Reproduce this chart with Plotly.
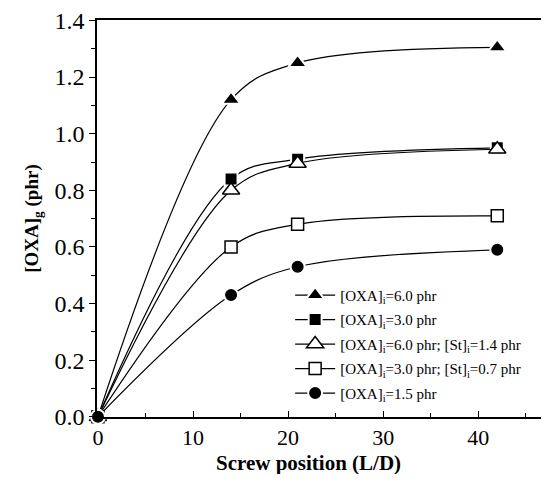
import plotly.graph_objects as go

x_pos = [0, 14, 21, 42]
oxa60 = [0.0, 1.12, 1.25, 1.305]
oxa30 = [0.0, 0.84, 0.91, 0.95]
oxa60_st = [0.0, 0.80, 0.895, 0.945]
oxa30_st = [0.0, 0.60, 0.68, 0.71]
oxa15 = [0.0, 0.43, 0.53, 0.59]

names = [
    "[OXA]<sub>i</sub>=6.0 phr",
    "[OXA]<sub>i</sub>=3.0 phr",
    "[OXA]<sub>i</sub>=6.0 phr; [St]<sub>i</sub>=1.4 phr",
    "[OXA]<sub>i</sub>=3.0 phr; [St]<sub>i</sub>=0.7 phr",
    "[OXA]<sub>i</sub>=1.5 phr",
]
series = [oxa60, oxa30, oxa60_st, oxa30_st, oxa15]
symbols = ["triangle-up", "square", "triangle-up", "square", "circle"]
fills = ["black", "black", "white", "white", "black"]
sizes = [16, 13, 15, 12, 14]

x_title = "<b>Screw position (L/D)</b>"
y_title = "<b>[OXA]<sub>g</sub> (phr)</b>"

fig = go.Figure()
for i, (name, ys, sym, fc, sz) in enumerate(zip(names, series, symbols, fills, sizes)):
    filled = fc == "black"
    fig.add_trace(go.Scatter(
        x=x_pos, y=ys, name=name, mode="lines+markers", legendgroup=str(i),
        line=dict(color="black", width=1.2, shape="spline", smoothing=1.0),
        marker=dict(symbol=sym, size=sz, color=fc,
                    line=dict(color="white" if filled else "black",
                              width=2 if filled else 1.5)),
        cliponaxis=False,
    ))

serif = "Liberation Serif"
fig.update_layout(
    width=533, height=466,
    margin=dict(l=89, r=0, t=12, b=57),
    paper_bgcolor="white", plot_bgcolor="white",
    font=dict(family=serif, color="black"),
    showlegend=True,
    legend=dict(x=0.435, y=0.348, xanchor="left", yanchor="top",
                bgcolor="rgba(0,0,0,0)", font=dict(family=serif, size=15, color="black"),
                itemwidth=40, tracegroupgap=2),
    xaxis=dict(range=[-0.1, 46.6], tickvals=[0, 10, 20, 30, 40], automargin=False,
               ticks="inside", ticklen=6, tickwidth=1.2, tickcolor="black",
               minor=dict(ticks="inside", ticklen=4, dtick=5, tickcolor="black"),
               showline=True, linecolor="black", linewidth=1.5, mirror=True,
               showgrid=False, zeroline=False, ticklabeloverflow="allow",
               tickfont=dict(family=serif, size=22, color="black")),
    yaxis=dict(range=[-0.0005, 1.4015], tickvals=[0, 0.2, 0.4, 0.6, 0.8, 1.0, 1.2, 1.4],
               tickformat=".1f", automargin=False, ticklabeloverflow="allow",
               ticks="outside", ticklen=6, tickwidth=1.2, tickcolor="black",
               minor=dict(ticks="outside", ticklen=4, dtick=0.1, tickcolor="black"),
               showline=True, linecolor="black", linewidth=1.5,
               showgrid=False, zeroline=False,
               tickfont=dict(family=serif, size=24, color="black"),
               title=dict(text=y_title, standoff=11,
                          font=dict(family=serif, size=19, color="black"))),
    annotations=[dict(text=x_title, xref="paper", yref="paper", x=0.477, y=-0.115,
                      xanchor="center", yanchor="middle", showarrow=False,
                      font=dict(family=serif, size=21, color="black"))],
)

fig.write_html("out.html")
